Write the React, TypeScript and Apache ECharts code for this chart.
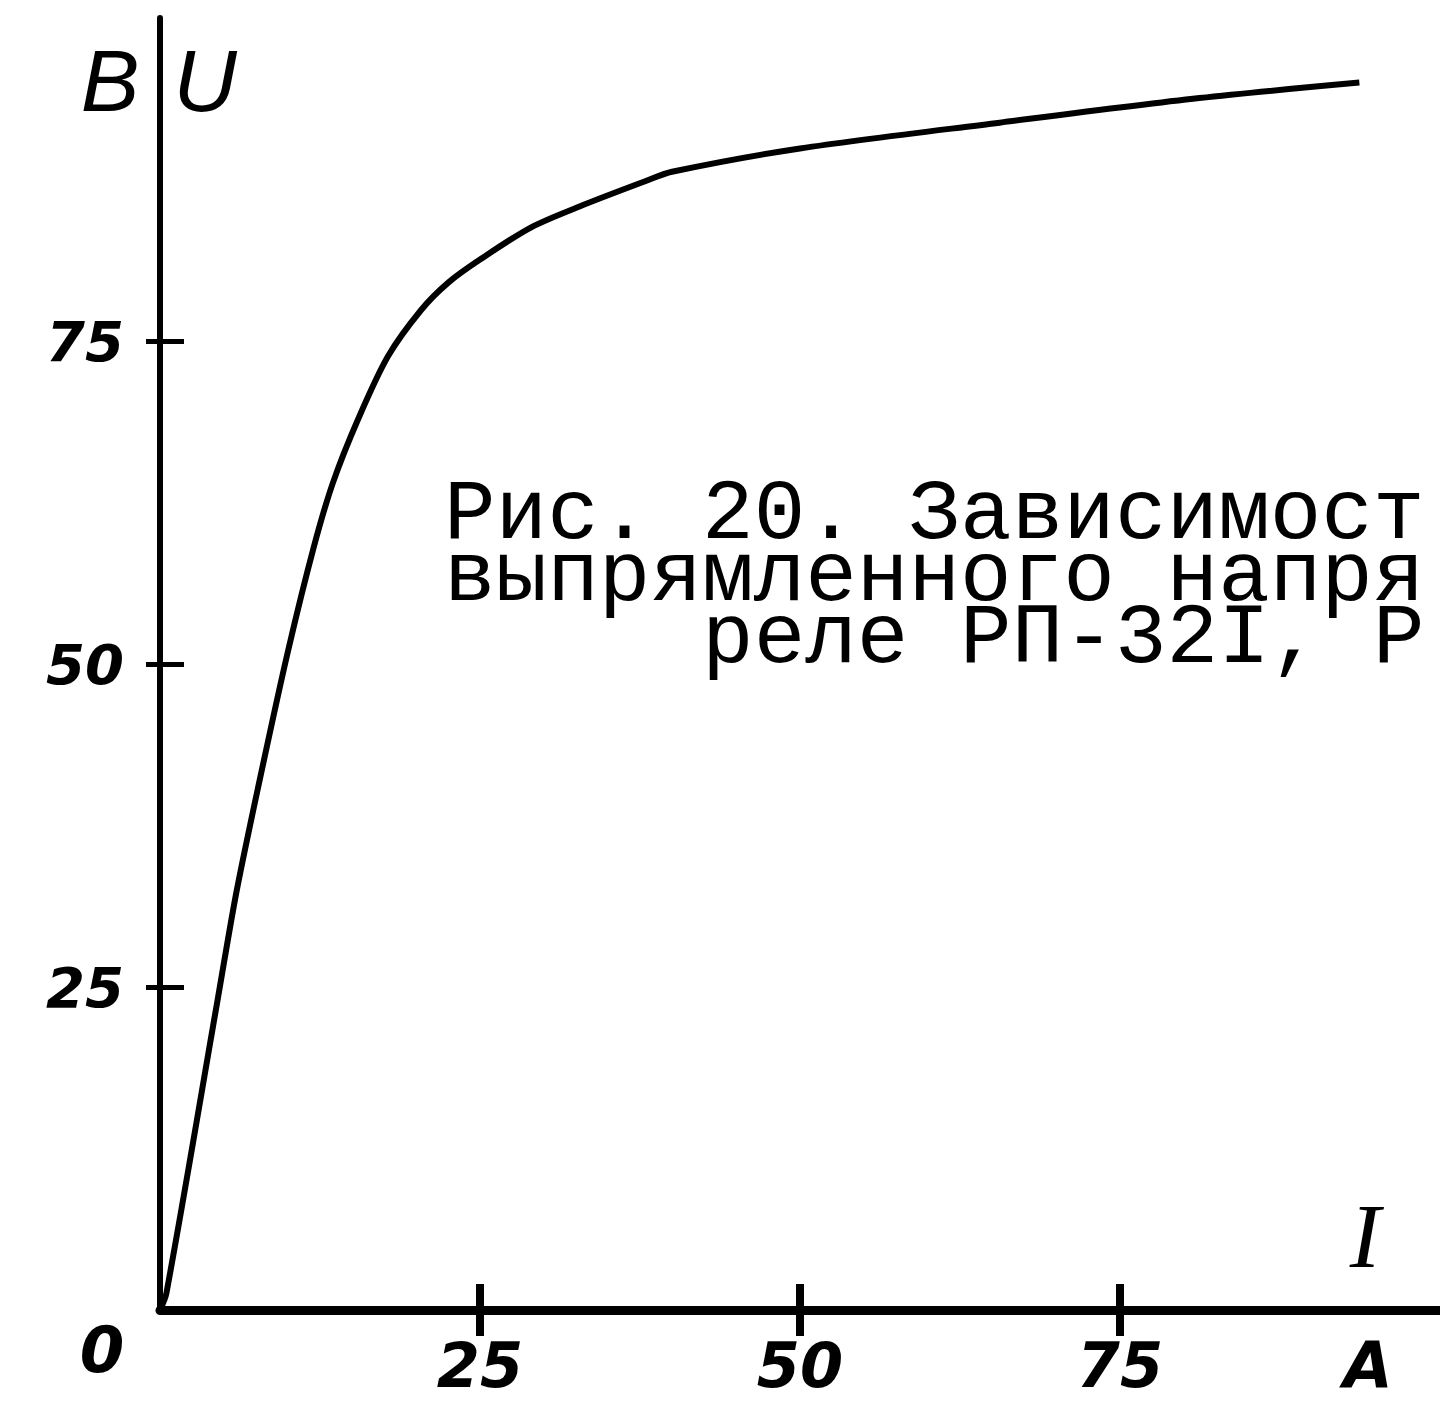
import React, { useEffect, useRef } from "react";
import * as echarts from "echarts";

// Current I, A (x) and rectified voltage U, V (y)
const currentA = [0, 0.5, 4.5, 6.0, 8.0, 10.0, 12.0, 13.5, 15.5, 17.8, 20.4, 22.5, 25.0, 29.0, 33.0, 38.0, 40.0, 50.0, 65.6, 81.2, 93.7];
const voltageV = [0, 1.3, 24.0, 32.5, 42.0, 51.0, 59.0, 64.0, 69.0, 73.8, 77.4, 79.5, 81.3, 83.8, 85.5, 87.4, 88.1, 89.9, 91.9, 93.8, 95.0];

const xTickValues = [25, 50, 75];
const yTickValues = [25, 50, 75];
const xTickLabels = ["25", "50", "75"];
const yTickLabels = ["25", "50", "75"];

const captionLines = [
  "Рис. 20. Зависимост",
  "выпрямленного напря",
  "     реле РП-32I, Р",
];

const INK = "#000";
const handFont = "'DejaVu Sans'";

export default function App() {
  const ref = useRef<HTMLDivElement>(null);

  useEffect(() => {
    if (!ref.current) return;
    const chart = echarts.init(ref.current, undefined, { renderer: "svg" });

    const labelOf = (vals: number[], labels: string[]) => (v: number) => {
      const i = vals.indexOf(v);
      return i >= 0 ? labels[i] : "";
    };

    const baseX = {
      type: "value" as const,
      min: 0,
      max: 100,
      interval: 25,
      position: "bottom" as const,
      splitLine: { show: false },
    };
    const baseY = {
      type: "value" as const,
      min: 0,
      max: 100,
      interval: 25,
      position: "left" as const,
      splitLine: { show: false },
    };

    chart.setOption({
      animation: false,
      backgroundColor: "#fff",
      grid: {
        left: 160,
        right: 0,
        top: 18,
        bottom: 99,
        containLabel: false,
        outerBoundsMode: "none",
      },
      xAxis: [
        {
          ...baseX,
          axisLine: { show: true, lineStyle: { color: INK, width: 9 } },
          axisTick: {
            show: true,
            inside: false,
            length: 26,
            customValues: xTickValues,
            lineStyle: { color: INK, width: 8 },
          },
          axisLabel: {
            show: true,
            customValues: xTickValues,
            formatter: labelOf(xTickValues, xTickLabels),
            margin: 24,
            color: INK,
            fontFamily: handFont,
            fontStyle: "italic",
            fontWeight: "bold",
            fontSize: 62,
          },
        },
        {
          ...baseX,
          axisLine: { show: false },
          axisTick: {
            show: true,
            inside: true,
            length: 26,
            customValues: xTickValues,
            lineStyle: { color: INK, width: 8 },
          },
          axisLabel: { show: false },
        },
      ],
      yAxis: [
        {
          ...baseY,
          axisLine: { show: true, lineStyle: { color: INK, width: 6 } },
          axisTick: {
            show: true,
            inside: false,
            length: 14,
            customValues: yTickValues,
            lineStyle: { color: INK, width: 5 },
          },
          axisLabel: {
            show: true,
            customValues: yTickValues,
            formatter: labelOf(yTickValues, yTickLabels),
            margin: 36,
            color: INK,
            fontFamily: handFont,
            fontStyle: "italic",
            fontWeight: "bold",
            fontSize: 56,
          },
        },
        {
          ...baseY,
          axisLine: { show: false },
          axisTick: {
            show: true,
            inside: true,
            length: 24,
            customValues: yTickValues,
            lineStyle: { color: INK, width: 5 },
          },
          axisLabel: { show: false },
        },
      ],
      series: [
        {
          type: "line",
          xAxisIndex: 0,
          yAxisIndex: 0,
          data: currentA.map((x, i) => [x, voltageV[i]]),
          showSymbol: false,
          smooth: 0.3,
          lineStyle: { color: INK, width: 6 },
          silent: true,
        },
      ],
      graphic: [
        {
          type: "text",
          x: 110,
          y: 80,
          style: {
            text: "B",
            fill: INK,
            font: "italic 88px 'Liberation Sans'",
            textAlign: "center",
            textVerticalAlign: "middle",
          },
        },
        {
          type: "text",
          x: 205,
          y: 80,
          style: {
            text: "U",
            fill: INK,
            font: "italic 88px 'Liberation Sans'",
            textAlign: "center",
            textVerticalAlign: "middle",
          },
        },
        {
          type: "text",
          x: 102,
          y: 1350,
          style: {
            text: "0",
            fill: INK,
            font: "italic bold 64px 'DejaVu Sans'",
            textAlign: "center",
            textVerticalAlign: "middle",
          },
        },
        {
          type: "text",
          x: 1365,
          y: 1236,
          style: {
            text: "I",
            fill: INK,
            font: "italic 92px 'Liberation Serif'",
            textAlign: "center",
            textVerticalAlign: "middle",
          },
        },
        {
          type: "text",
          x: 1368,
          y: 1366,
          style: {
            text: "A",
            fill: INK,
            font: "italic bold 64px 'DejaVu Sans'",
            textAlign: "center",
            textVerticalAlign: "middle",
          },
        },
        {
          type: "text",
          x: 444,
          y: 577,
          style: {
            text: captionLines.join("\n"),
            fill: INK,
            font: "86px 'Liberation Mono'",
            lineHeight: 62,
            textAlign: "left",
            textVerticalAlign: "middle",
          },
        },
      ],
    });

    return () => chart.dispose();
  }, []);

  return (
    <div
      ref={ref}
      style={{ position: "absolute", left: 0, top: 0, width: 1440, height: 1409, overflow: "hidden" }}
    />
  );
}
